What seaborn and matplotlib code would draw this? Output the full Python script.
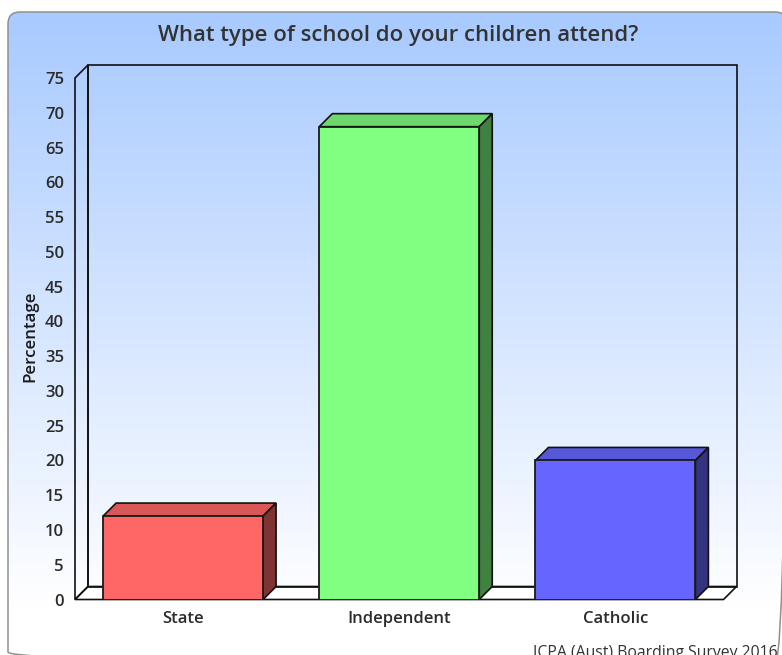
import numpy as np
import pandas as pd
import seaborn as sns
import matplotlib
matplotlib.use("Agg")
import matplotlib.pyplot as plt
from matplotlib.patches import FancyBboxPatch, Polygon
from matplotlib.transforms import ScaledTranslation, IdentityTransform
from matplotlib.colors import to_rgb, LinearSegmentedColormap

categories = ["State", "Independent", "Catholic"]
values = [12, 68, 20]
colors = ["#FF6666", "#80FF80", "#6666FF"]
yticks = list(range(0, 80, 5))
title = "What type of school do your children attend?"
ylabel = "Percentage"
footer = "ICPA (Aust) Boarding Survey 2016"

W, H, DPI = 782, 655, 100
sns.set_theme(style="white")
plt.rcParams["font.family"] = ["Open Sans", "DejaVu Sans"]

fig = plt.figure(figsize=(W / DPI, H / DPI), dpi=DPI, facecolor="white")

# panel with gradient background
bg = fig.add_axes([0, 0, 1, 1], zorder=0)
bg.axis("off")
cmap = LinearSegmentedColormap.from_list("bg", ["#A8CAFF", "#FFFFFF"])
im = bg.imshow(np.linspace(0, 1, 256)[:, None], extent=(0, W, 610, 12), cmap=cmap,
               aspect="auto", zorder=1)
panel = FancyBboxPatch((8, 12), 779, 652, boxstyle="round,pad=0,rounding_size=12",
                       fc="none", ec="#909090", lw=1.1, zorder=2)
bg.add_patch(panel)
im.set_clip_path(panel)
bg.set_xlim(0, W)
bg.set_ylim(H, 0)

# plot axes = front plane of the pseudo-3D box
L, R, T, B = 75, 723.5, 78, 599.5
ax = fig.add_axes([L / W, 1 - B / H, (R - L) / W, (B - T) / H], zorder=1)
ax.patch.set_visible(False)
df = pd.DataFrame({"category": categories, "value": values})
sns.barplot(data=df, x="category", y="value", hue="category", palette=colors,
            order=categories, hue_order=categories, dodge=False, legend=False,
            width=0.74, saturation=1, edgecolor="#1a1a1a", linewidth=1.3, ax=ax, zorder=4)
bars = [b for c in ax.containers for b in c]
ax.set_ylim(0, 75)
ax.set_xlim(-0.5, 2.5)
for s in ax.spines.values():
    s.set_visible(False)

depth = 13
off = ScaledTranslation(depth / DPI, depth / DPI, fig.dpi_scale_trans)
line = dict(edgecolor="#111111", linewidth=1.2, clip_on=False, joinstyle="miter")
I = IdentityTransform()
A = ax.transAxes
Aback = A + off
D = ax.transData
Dback = D + off


def face(front_pts, rear_pts, tf, tr):
    return [tf.transform(p) for p in front_pts] + [tr.transform(p) for p in rear_pts]


# floor, left wall, back wall
ax.add_patch(Polygon(face([(0, 0), (1, 0)], [(1, 0), (0, 0)], A, Aback), closed=True,
                     facecolor="white", transform=I, zorder=1, **line))
ax.add_patch(Polygon(face([(0, 1), (0, 0)], [(0, 0), (0, 1)], A, Aback), closed=True,
                     fill=False, transform=I, zorder=1, **line))
ax.add_patch(Polygon([(0, 0), (1, 0), (1, 1), (0, 1)], closed=True, fill=False,
                     transform=Aback, zorder=1, **line))

# top and side faces derived from the drawn bars
for bar, col in zip(bars, colors):
    x0, x1 = bar.get_x(), bar.get_x() + bar.get_width()
    h = bar.get_height()
    rgb = np.array(to_rgb(col))
    top = face([(x0, h), (x1, h)], [(x1, h), (x0, h)], D, Dback)
    side = face([(x1, 0), (x1, h)], [(x1, h), (x1, 0)], D, Dback)
    ax.add_patch(Polygon(top, closed=True, facecolor=rgb * 0.85, transform=I, zorder=3, **line))
    ax.add_patch(Polygon(side, closed=True, facecolor=rgb * 0.5, transform=I, zorder=3, **line))

txt = "#2b2b2b"
ax.set_yticks(yticks)
ax.set_yticklabels([str(t) for t in yticks], fontsize=12, fontweight=600, color=txt)
ax.set_xticks(range(len(categories)))
ax.set_xticklabels(categories, fontsize=12, fontweight=600, color=txt)
ax.tick_params(axis="both", length=0)
ax.tick_params(axis="y", pad=8)
ax.tick_params(axis="x", pad=8.5)
ax.set_xlabel("")
ax.set_ylabel(ylabel, fontsize=12.2, fontweight=600, color="#1a1a1a", labelpad=5, y=0.504)

fig.text(398 / W, 1 - 35.5 / H, title, ha="center", va="center",
         fontsize=15.9, fontweight=600, color="#333333")
fig.text(778 / W, 1 - 653 / H, footer, ha="right", va="center",
         fontsize=11.3, color="#333333")

fig.savefig("out.png", dpi=DPI)
